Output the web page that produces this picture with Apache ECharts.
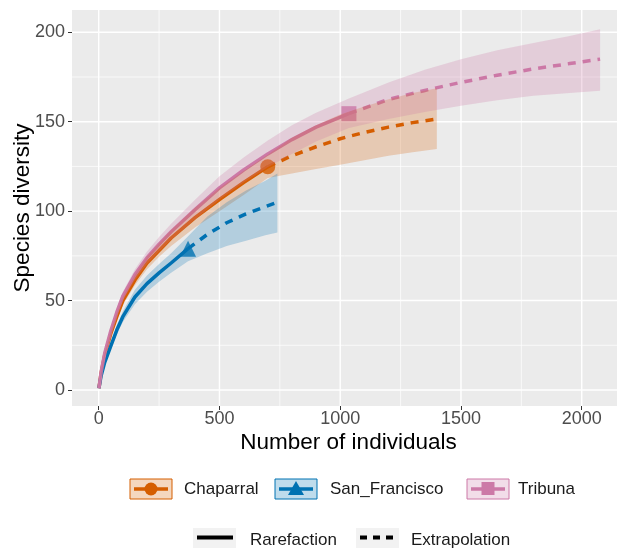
<!DOCTYPE html>
<html><head><meta charset="utf-8">
<script src="https://cdn.jsdelivr.net/npm/echarts@6/dist/echarts.min.js"></script>
<style>html,body{margin:0;padding:0;background:#fff}#c{width:617px;height:548px}</style>
</head><body><div id="c"></div>
<script>
// ---- tick values ----
const xTicks = [0, 500, 1000, 1500, 2000];
const xMinor = [250, 750, 1250, 1750];
const yTicks = [0, 50, 100, 150, 200];
const yMinor = [25, 75, 125, 175];

// ---- Chaparral ----
const chapRareX   = [1, 10, 25, 50, 75, 100, 150, 200, 250, 300, 400, 500, 600, 700];
const chapRareEst = [1, 9.5, 19.5, 31.5, 41, 50, 61.5, 71, 78, 85, 96.5, 106.5, 116, 124.8];
const chapRareLo  = [1, 9, 18.5, 30, 39, 47.5, 58.5, 67.5, 74.5, 80.5, 91, 100, 109, 118.5];
const chapRareHi  = [1, 10, 20.5, 33, 43, 52, 64.5, 74.5, 82, 89.5, 102, 113, 122.5, 131.5];
const chapExtX    = [700, 800, 900, 1000, 1100, 1200, 1300, 1400];
const chapExtEst  = [124.8, 131, 136, 140.5, 144, 147, 149.5, 151.5];
const chapExtLo   = [118.5, 121, 123.5, 126, 128.5, 131, 133, 134.7];
const chapExtHi   = [131.5, 141, 148, 154, 158.5, 162.5, 166, 168.7];

// ---- San_Francisco ----
const sfRareX   = [1, 10, 25, 50, 75, 100, 150, 200, 250, 300, 370];
const sfRareEst = [1, 8, 15.5, 24.5, 33.5, 41, 52, 59.5, 65.5, 71, 79];
const sfRareLo  = [1, 7.5, 14.5, 23, 31, 38, 48, 55, 60.5, 65.5, 72];
const sfRareHi  = [1, 8.5, 16.5, 26, 36, 44, 56, 64, 70.5, 76.5, 86];
const sfExtX    = [370, 450, 530, 610, 690, 740];
const sfExtEst  = [79, 87, 93.5, 98.5, 102.5, 105];
const sfExtLo   = [72, 76.5, 80.5, 83.5, 86.5, 88];
const sfExtHi   = [86, 97, 105, 111.5, 117, 121];

// ---- Tribuna ----
const triRareX   = [1, 10, 25, 50, 75, 100, 150, 200, 250, 300, 400, 500, 600, 700, 800, 900, 1036];
const triRareEst = [1, 10, 20.5, 33, 43.5, 52.5, 64.5, 74, 81.5, 88.5, 101, 113, 123, 132, 140, 147, 154.5];
const triRareLo  = [1, 9.5, 19.5, 31.5, 41.5, 50, 61.5, 70.5, 77.5, 84, 95.5, 106.5, 116, 124.5, 132, 139, 146.5];
const triRareHi  = [1, 10.5, 21.5, 34.5, 45.5, 55, 67.5, 77.5, 85.5, 93, 106.5, 119.5, 130, 139.5, 148, 155, 163];
const triExtX    = [1036, 1200, 1350, 1500, 1650, 1800, 1950, 2076];
const triExtEst  = [154.5, 162.5, 167.5, 172, 176, 179.5, 182.5, 185];
const triExtLo   = [146.5, 151.5, 155.5, 159, 162, 164.5, 166, 167.3];
const triExtHi   = [163, 172, 179, 185, 190, 194, 198, 201.7];

const assemblages = ['Chaparral', 'San_Francisco', 'Tribuna'];
const colors = ['#D55E00', '#0072B2', '#CC79A7'];
const bandColors = ['rgba(213,94,0,0.24)', 'rgba(0,114,178,0.24)', 'rgba(204,121,167,0.26)'];
const legendFill = ['rgba(213,94,0,0.25)', 'rgba(0,114,178,0.25)', 'rgba(204,121,167,0.25)'];
const symbols = ['circle', 'triangle', 'rect'];
const methods = ['Rarefaction', 'Extrapolation'];

const groups = [
  {rx: chapRareX, re: chapRareEst, rl: chapRareLo, rh: chapRareHi, ex: chapExtX, ee: chapExtEst, el: chapExtLo, eh: chapExtHi},
  {rx: sfRareX, re: sfRareEst, rl: sfRareLo, rh: sfRareHi, ex: sfExtX, ee: sfExtEst, el: sfExtLo, eh: sfExtHi},
  {rx: triRareX, re: triRareEst, rl: triRareLo, rh: triRareHi, ex: triExtX, ee: triExtEst, el: triExtLo, eh: triExtHi}
];

const FONT = 'Liberation Sans, Arial, sans-serif';
const zip = (a, b) => a.map((v, i) => [v, b[i]]);

const series = [];
// grid lines
series.push({
  type: 'custom', z: 1, silent: true, data: [[0, 0]],
  renderItem: function (params, api) {
    const cs = params.coordSys;
    const ch = [];
    const vline = (v, w) => { const p = api.coord([v, 0]); ch.push({type: 'line', shape: {x1: p[0], y1: cs.y, x2: p[0], y2: cs.y + cs.height}, style: {stroke: '#FFFFFF', lineWidth: w}}); };
    const hline = (v, w) => { const p = api.coord([0, v]); ch.push({type: 'line', shape: {x1: cs.x, y1: p[1], x2: cs.x + cs.width, y2: p[1]}, style: {stroke: '#FFFFFF', lineWidth: w}}); };
    xMinor.forEach(v => vline(v, 0.7));
    yMinor.forEach(v => hline(v, 0.7));
    xTicks.forEach(v => vline(v, 1.4));
    yTicks.forEach(v => hline(v, 1.4));
    return {type: 'group', children: ch};
  }
});

groups.forEach((g, k) => {
  series.push({
    type: 'scatter', z: 3, silent: true, name: assemblages[k],
    symbol: symbols[k], symbolSize: k === 1 ? 16 : 15,
    itemStyle: {color: colors[k]},
    data: [[g.rx[g.rx.length - 1], g.re[g.re.length - 1]]]
  });
  series.push({
    type: 'line', z: 3, silent: true, showSymbol: false, symbol: 'none',
    lineStyle: {color: colors[k], width: 3.5}, data: zip(g.rx, g.re)
  });
  series.push({
    type: 'line', z: 3, silent: true, showSymbol: false, symbol: 'none',
    lineStyle: {color: colors[k], width: 3.5, type: [8, 7]}, data: zip(g.ex, g.ee)
  });
});

groups.forEach((g, k) => {
  const xs = g.rx.concat(g.ex), lo = g.rl.concat(g.el), hi = g.rh.concat(g.eh);
  series.push({
    type: 'custom', z: 4, silent: true, data: [[xs[0], lo[0]]],
    renderItem: function (params, api) {
      const pts = [];
      for (let i = 0; i < xs.length; i++) pts.push(api.coord([xs[i], hi[i]]));
      for (let i = xs.length - 1; i >= 0; i--) pts.push(api.coord([xs[i], lo[i]]));
      return {type: 'polygon', shape: {points: pts}, style: {fill: bandColors[k]}};
    }
  });
});

// legend graphics
const graphics = [];
const leg1 = [{bx: 130, tx: 184}, {bx: 275, tx: 330}, {bx: 467, tx: 518}];
leg1.forEach((p, k) => {
  graphics.push({type: 'rect', shape: {x: p.bx, y: 479, width: 42, height: 20}, style: {fill: legendFill[k], stroke: colors[k], lineWidth: 1}});
  graphics.push({type: 'line', shape: {x1: p.bx + 4, y1: 489, x2: p.bx + 38, y2: 489}, style: {stroke: colors[k], lineWidth: 3.5}});
  if (k === 0) graphics.push({type: 'circle', shape: {cx: p.bx + 21, cy: 489, r: 6.5}, style: {fill: colors[k]}});
  if (k === 1) graphics.push({type: 'polygon', shape: {points: [[p.bx + 21, 481], [p.bx + 29, 495], [p.bx + 13, 495]]}, style: {fill: colors[k]}});
  if (k === 2) graphics.push({type: 'rect', shape: {x: p.bx + 14.5, y: 482, width: 13, height: 13}, style: {fill: colors[k]}});
  graphics.push({type: 'text', x: p.tx, y: 489, style: {text: assemblages[k], font: '17px ' + FONT, fill: '#1A1A1A', verticalAlign: 'middle'}});
});
const leg2 = [{bx: 193, tx: 250, dash: null}, {bx: 356, tx: 411, dash: [7, 6]}];
leg2.forEach((p, k) => {
  graphics.push({type: 'rect', shape: {x: p.bx, y: 528, width: 43, height: 22}, style: {fill: '#F2F2F2'}});
  graphics.push({type: 'line', shape: {x1: p.bx + 4, y1: 537.5, x2: p.bx + 40, y2: 537.5}, style: {stroke: '#000', lineWidth: 4, lineDash: p.dash}});
  graphics.push({type: 'text', x: p.tx, y: 540, style: {text: methods[k], font: '17px ' + FONT, fill: '#1A1A1A', verticalAlign: 'middle'}});
});

const chart = echarts.init(document.getElementById('c'), null, {renderer: 'canvas'});
chart.setOption({
  animation: false,
  backgroundColor: '#FFFFFF',
  grid: {left: 72, right: 0, top: 10, bottom: 142, show: true, backgroundColor: '#EBEBEB', borderWidth: 0, outerBoundsMode: 'none'},
  xAxis: {
    type: 'value', min: -110.5, max: 2146,
    axisLine: {show: false, onZero: false}, splitLine: {show: false},
    axisTick: {show: true, customValues: xTicks, length: 4, lineStyle: {color: '#333333', width: 1}},
    axisLabel: {customValues: xTicks, formatter: v => String(v), color: '#4D4D4D', fontSize: 18, fontFamily: FONT, margin: 4},
    name: 'Number of individuals', nameLocation: 'middle', nameGap: 25, nameMoveOverlap: false,
    nameTextStyle: {fontSize: 22.5, fontFamily: FONT, color: '#000', padding: [0, 0, 0, 8]}
  },
  yAxis: {
    type: 'value', min: -8.95, max: 212.47,
    axisLine: {show: false, onZero: false}, splitLine: {show: false},
    axisTick: {show: true, customValues: yTicks, length: 4, lineStyle: {color: '#333333', width: 1}},
    axisLabel: {customValues: yTicks, formatter: v => String(v), color: '#4D4D4D', fontSize: 18, fontFamily: FONT, margin: 7},
    name: 'Species diversity', nameLocation: 'middle', nameGap: 38, nameMoveOverlap: false,
    nameTextStyle: {fontSize: 22.5, fontFamily: FONT, color: '#000'}
  },
  series: series,
  graphic: graphics
});
</script>
</body></html>
